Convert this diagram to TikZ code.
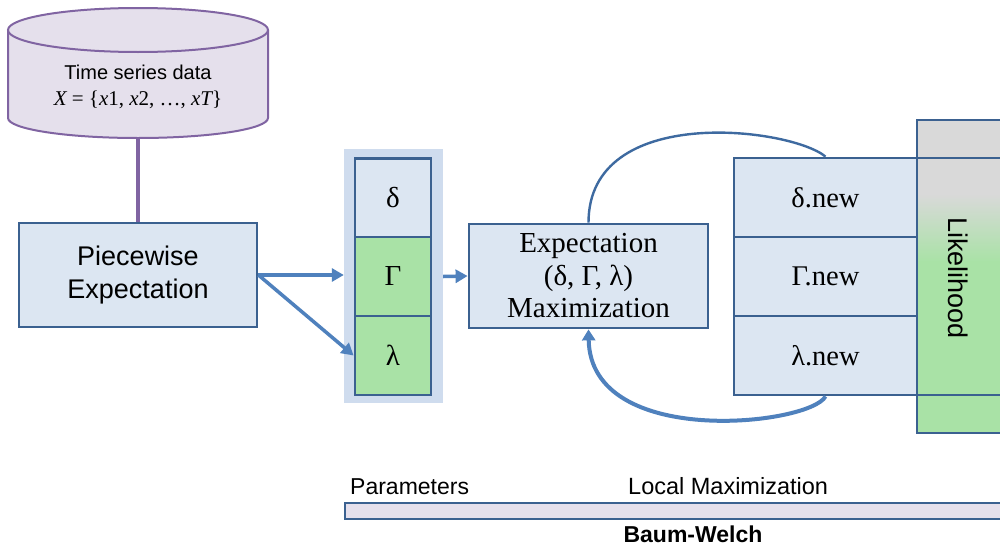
\documentclass[tikz,border=0pt]{standalone}
\usepackage{fontspec}
\newfontfamily\sansf{Liberation Sans}
\newfontfamily\seriff{Liberation Serif}
\usetikzlibrary{arrows.meta}
\definecolor{lav}{HTML}{E5E0EC}
\definecolor{purp}{HTML}{8064A2}
\definecolor{boxfill}{HTML}{DCE6F2}
\definecolor{boxline}{HTML}{3B6190}
\definecolor{colbgc}{HTML}{CFDCEE}
\definecolor{grn}{HTML}{A9E2A6}
\definecolor{arr}{HTML}{4F81BD}
\definecolor{gry}{HTML}{D9D9D9}
\definecolor{curvec}{HTML}{3E6AA0}
\newcommand{\iv}[1]{{\itshape #1}}
\begin{document}
\begin{tikzpicture}[x=1pt,y=-1pt,
 bx/.style={draw=boxline, line width=2.8pt, fill=boxfill, inner sep=0pt, align=center},
 cell/.style={bx, minimum width=76pt, minimum height=79pt, font=\seriff\fontsize{29}{32}\selectfont},
 ncell/.style={bx, minimum width=183pt, minimum height=79pt, font=\seriff\fontsize{28.5}{32}\selectfont},
 arrline/.style={draw=arr, line width=3.5pt, -{Triangle[length=12pt,width=13pt]}},
 lbl/.style={font=\sansf\fontsize{23}{26}\selectfont, inner sep=0pt}
]
\useasboundingbox (0,0) rectangle (1000,546);
\clip (0,0) rectangle (1000,546);
\fill[white] (0,0) rectangle (1000,546);

% database cylinder
\fill[lav] (8,30) -- (8,118) arc[start angle=180,end angle=0,x radius=130,y radius=20] -- (268,30) -- cycle;
\draw[purp, line width=2pt] (8,30) -- (8,118) arc[start angle=180,end angle=0,x radius=130,y radius=20] -- (268,30);
\draw[purp, line width=2pt, fill=lav] (138,30) ellipse [x radius=130, y radius=22];
\node[align=center, font=\sansf\fontsize{20}{27}\selectfont] (db) at (138,87) {Time series data\\[-1pt]{\seriff\fontsize{21}{27}\selectfont\iv{X} = \{\iv{x}1, \iv{x}2, …, \iv{xT}\}}};
\coordinate (dbb) at (138,138);

% piecewise
\node[bx, minimum width=238pt, minimum height=104pt, font=\sansf\fontsize{27}{33}\selectfont] (pw) at (138,275) {Piecewise\\Expectation};
\draw[purp, line width=3.5pt] (dbb) -- (pw.north);

% parameter column
\node[fill=colbgc, minimum width=99pt, minimum height=254pt, inner sep=0pt] (colbg) at (393.5,276) {};
\node[cell] (D) at (393,198) {δ};
\node[cell, fill=grn] (G) at (393,276.5) {Γ};
\node[cell, fill=grn] (L) at (393,355.5) {λ};

% EM box
\node[bx, minimum width=239pt, minimum height=104pt, font=\seriff\fontsize{29}{32.5}\selectfont] (em) at (588.5,276) {Expectation\\(δ, Γ, λ)\\Maximization};

% new params
\node[ncell] (dn) at (825.5,197.5) {δ.new};
\node[ncell] (gn) at (825.5,276.5) {Γ.new};
\node[ncell] (ln) at (825.5,355.5) {λ.new};

% likelihood bar
\fill[gry] (917,120) rectangle (1004,195);
\shade[top color=gry, bottom color=grn] (917,194) rectangle (1004,262);
\fill[grn] (917,261) rectangle (1004,433);
\draw[boxline, line width=2.8pt] (1004,120) -- (917,120) -- (917,433) -- (1004,433);
\draw[boxline, line width=2.8pt] (917,158) -- (1004,158);
\draw[boxline, line width=2.8pt] (917,395) -- (1004,395);
\node[rotate=-90, font=\sansf\fontsize{27}{30}\selectfont] (lik) at (958,278) {Likelihood};

% connectors
\draw[arrline] (pw.east) -- (colbg.west |- pw.east);
\draw[arrline] (pw.east) -- (L.west);
\draw[arrline] (colbg.east |- G.center) -- (em.west);
\draw[curvec, line width=2.4pt] (em.north) .. controls +(0,-120) and +(-35,-29) .. (dn.north);
\draw[arr, line width=4pt, -{Triangle[length=11pt,width=13pt]}] (ln.south) .. controls +(-16,29) and +(2,120) .. (em.south);

% bottom bar
\node[draw=boxline, line width=2pt, fill=lav, minimum width=662pt, minimum height=16pt, inner sep=0pt, anchor=north west] (bar) at (344,502) {};
\node[lbl, anchor=base west] (par) at (350,494) {Parameters};
\node[lbl, font=\sansf\fontsize{23.5}{26}\selectfont, anchor=base west] (lm) at (628,494) {Local Maximization};
\node[lbl, font=\sansf\bfseries\fontsize{23}{26}\selectfont, anchor=base] (bw) at (693,542) {Baum-Welch};
\end{tikzpicture}
\end{document}
